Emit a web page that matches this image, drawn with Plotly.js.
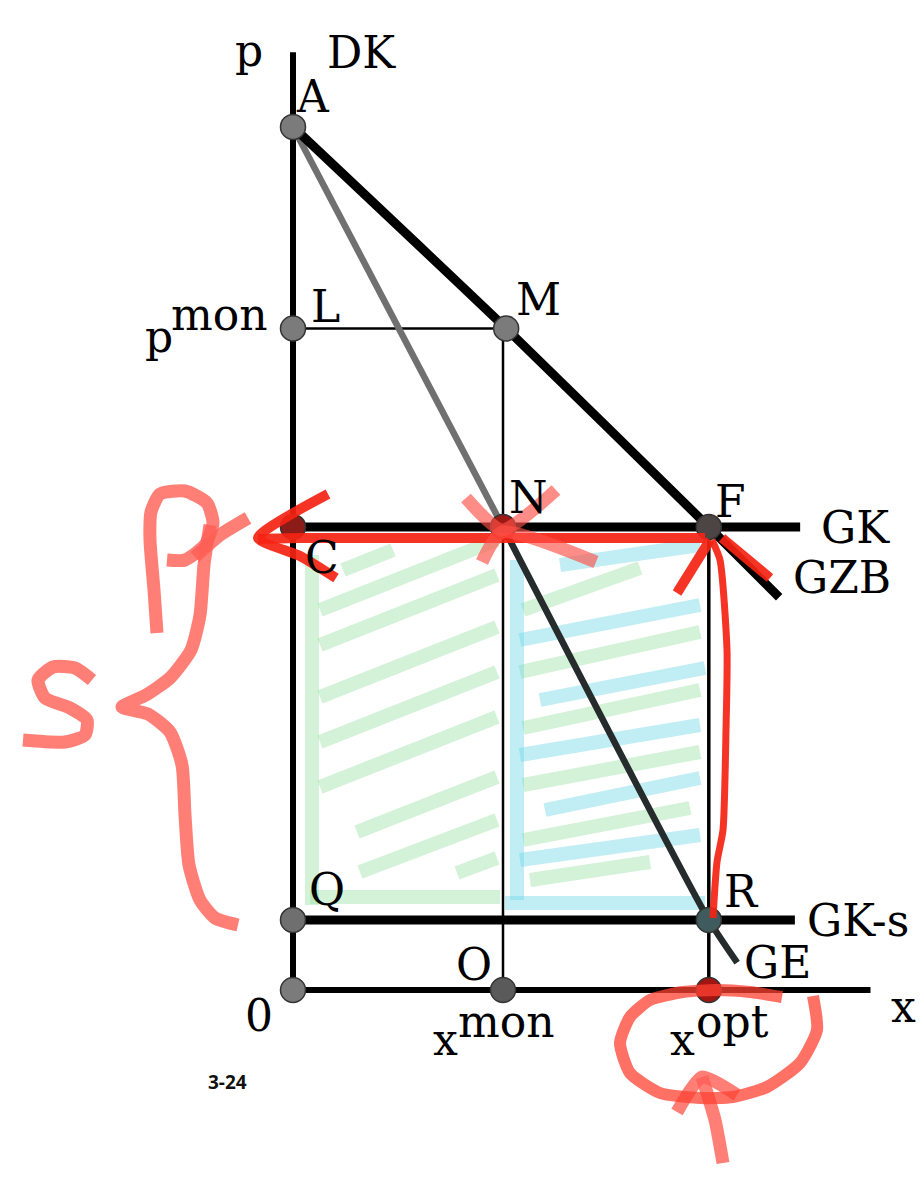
<!DOCTYPE html>
<html>
<head>
<meta charset="utf-8">
<script src="https://cdn.plot.ly/plotly-3.0.1.min.js"></script>
<style>
  html, body { margin: 0; padding: 0; background: #ffffff; }
  #chart { width: 924px; height: 1188px; }
</style>
</head>
<body>
<div id="chart"></div>
<script>
// --- model values (price p against quantity x) ---
var pA = 8.22        // choke price, point A
var pMon = 6.30      // monopoly price
var gk = 4.41        // marginal cost GK
var gkMinusS = 0.667 // GK - s
var xMon = 2.0
var xOpt = 3.96
var yTop = 8.93
var xEnd = 5.50

// demand DK / GZB  (A -> M -> F -> end)
var dkX = [0, 2.03, xOpt, 4.63]
var dkY = [pA, pMon, gk, 3.74]
// marginal revenue GE (A -> N -> R -> end)
var geX = [0, xMon, xOpt, 4.23]
var geY = [pA, gk, gkMinusS, 0.26]

var pointNames = ["A", "L", "M", "C", "N", "F", "Q", "R", "0", "O", "xopt"]
var pointX = [0, 0, 2.03, 0, xMon, xOpt, 0, xOpt, 0, xMon, xOpt]
var pointY = [pA, pMon, pMon, gk, gk, gk, gkMinusS, gkMinusS, 0, 0, 0]
var pointFill = ["#7b7b7b", "#7b7b7b", "#7b7b7b", "#8c1c18", "#9c1a12", "#4d4444",
                 "#6f6f6f", "#3f5b5e", "#7b7b7b", "#5a5a5a", "#a01612"]

// --- hand-drawn ink (screen units) ---
var greenStrokes = [
  [312, 555, 312, 905], [310, 897, 500, 897],
  [343, 570, 393, 550], [320, 610, 497, 540], [320, 645, 497, 575],
  [320, 697, 497, 627], [320, 742, 497, 672], [320, 787, 497, 717],
  [357, 832, 497, 777], [360, 872, 497, 820], [457, 873, 497, 858],
  [523, 610, 640, 568], [520, 672, 700, 632], [523, 728, 700, 690],
  [523, 785, 700, 752], [523, 840, 690, 808], [530, 880, 650, 862]
]
var cyanStrokes = [
  [560, 565, 700, 545], [520, 640, 700, 605], [540, 700, 705, 668],
  [520, 755, 700, 725], [545, 810, 700, 778], [520, 860, 700, 835],
  [505, 903, 705, 903], [517, 560, 517, 900]
]
var redLines = [
  [[258, 539], [300, 538], [500, 538], [705, 538]],
  [[328, 494], [258, 538], [300, 556], [336, 578]],
  [[677, 593], [710, 540]],
  [[722, 538], [770, 578]]
]
var redRightEdge = [[712, 540], [720, 560], [727, 650], [726, 730], [723, 830], [717, 862], [713, 918]]
var starN = [
  [[466, 498], [502, 530], [556, 490]],
  [[482, 562], [502, 532], [596, 562]]
]
var salmonLines = [
  // p
  [[157, 633], [154, 590], [150, 540], [151, 512], [160, 494], [185, 491], [207, 503], [213, 523], [205, 545], [185, 560], [167, 560]],
  [[195, 557], [220, 535], [248, 518]],
  // brace
  [[210, 525], [204, 565], [200, 615], [191, 650], [170, 678], [146, 695], [122, 707], [148, 714], [170, 732], [182, 765], [185, 815], [189, 865], [200, 900], [215, 918], [238, 925]],
  // s
  [[92, 680], [75, 668], [53, 667], [38, 680], [45, 698], [70, 708], [87, 720], [85, 735], [65, 742], [23, 740]],
  // arrow under x opt
  [[723, 1163], [715, 1120], [702, 1077]],
  [[677, 1112], [702, 1077], [737, 1095]]
]
var circleOpt = [[782, 997], [750, 992], [717, 990], [683, 992], [650, 1000], [630, 1017], [620, 1043], [630, 1073],
                 [660, 1093], [700, 1098], [733, 1097], [767, 1087], [800, 1063], [817, 1030], [813, 996]]

var labels = [
  ["p", 249, 50], ["DK", 361, 52], ["A", 313, 96], ["L", 325, 306], ["M", 538, 299],
  ["p", 159, 336], ["mon", 219, 314], ["N", 528, 497], ["F", 730, 501], ["GK", 855, 527],
  ["GZB", 842, 577], ["C", 322, 557], ["Q", 327, 889], ["R", 741, 891], ["GK-s", 858, 920],
  ["GE", 777, 962], ["O", 474, 964], ["0", 259, 1015], ["x", 445, 1039], ["mon", 506, 1021],
  ["x", 682, 1039], ["opt", 732, 1021], ["x", 903, 1006]
]

function strokesToXY(list) {
  var xs = [], ys = []
  list.forEach(s => {
    xs.push(s[0], s[2], null)
    ys.push(s[1], s[3], null)
  })
  return { x: xs, y: ys }
}

function pathsToXY(list) {
  var xs = [], ys = []
  list.forEach(path => {
    path.forEach(pt => { xs.push(pt[0]); ys.push(pt[1]) })
    xs.push(null); ys.push(null)
  })
  return { x: xs, y: ys }
}

function seg(x, y, width, color, axes) {
  return {
    x: x, y: y, mode: "lines", type: "scatter", hoverinfo: "skip",
    xaxis: axes[0], yaxis: axes[1],
    line: { color: color, width: width, shape: "spline", smoothing: 0.6 },
    connectgaps: false
  }
}

var INK_LOW = ["x", "y"]
var MAIN = ["x2", "y2"]
var INK_TOP = ["x3", "y3"]

var g = strokesToXY(greenStrokes)
var c = strokesToXY(cyanStrokes)
var r = pathsToXY(redLines)
var n = pathsToXY(starN)
var s = pathsToXY(salmonLines)
var o = pathsToXY([circleOpt])
var re = pathsToXY([redRightEdge])

var data = [
  // colouring underneath the diagram
  seg(g.x, g.y, 14, "rgba(150,225,160,0.42)", INK_LOW),
  seg(c.x, c.y, 14, "rgba(100,212,230,0.4)", INK_LOW),

  // diagram
  seg([0, 0], [0, yTop], 6, "#000000", MAIN),
  seg([0, xEnd], [0, 0], 6, "#000000", MAIN),
  seg([0, 2.03], [pMon, pMon], 2.5, "#000000", MAIN),
  seg([xMon, xMon], [pMon, 0], 2.5, "#000000", MAIN),
  seg([xOpt, xOpt], [gk, 0], 3.5, "#000000", MAIN),
  seg([0, 4.83], [gk, gk], 9, "#000000", MAIN),
  seg([0, 4.78], [gkMinusS, gkMinusS], 9, "#000000", MAIN),
  seg(geX.slice(0, 2), geY.slice(0, 2), 6.5, "#707070", MAIN),
  seg(geX.slice(1), geY.slice(1), 6.5, "#262c2c", MAIN),
  seg(dkX, dkY, 9, "#000000", MAIN),
  {
    x: pointX, y: pointY, text: pointNames, mode: "markers", type: "scatter",
    xaxis: "x2", yaxis: "y2", hoverinfo: "skip",
    marker: { size: 25, color: pointFill, line: { color: "#333333", width: 1.5 } }
  },

  // red ink on top
  seg(r.x, r.y, 10, "rgba(245,35,20,0.92)", INK_TOP),
  seg(re.x, re.y, 7, "rgba(245,35,20,0.92)", INK_TOP),
  seg(n.x, n.y, 13, "rgba(255,80,70,0.65)", INK_TOP),
  seg(s.x, s.y, 13, "rgba(255,95,85,0.8)", INK_TOP),
  seg(o.x, o.y, 12, "rgba(255,65,50,0.75)", INK_TOP)
]

var serif = "DejaVu Serif"

var annotations = labels.map(l => ({
  text: l[0], x: l[1], y: l[2], xref: "x3", yref: "y3",
  showarrow: false, xanchor: "center", yanchor: "middle",
  font: { family: serif, size: 44, color: "#000000" }
}))
annotations.push({
  text: "<b>3-24</b>", x: 227, y: 1082, xref: "x3", yref: "y3",
  showarrow: false, xanchor: "center", yanchor: "middle",
  font: { family: "Open Sans", size: 19, color: "#111111" }
})

var hidden = { visible: false, showgrid: false, zeroline: false, fixedrange: true }

var layout = {
  width: 924,
  height: 1188,
  margin: { t: 0, b: 0, l: 0, r: 0, pad: 0 },
  paper_bgcolor: "#ffffff",
  plot_bgcolor: "#ffffff",
  font: { family: serif, color: "#000000" },
  showlegend: false,
  xaxis: Object.assign({ range: [0, 924] }, hidden),
  yaxis: Object.assign({ range: [1188, 0] }, hidden),
  xaxis2: Object.assign({ range: [-293 / 105, 631 / 105], overlaying: "x" }, hidden),
  yaxis2: Object.assign({ range: [-198 / 105, 990 / 105], overlaying: "y" }, hidden),
  xaxis3: Object.assign({ range: [0, 924], overlaying: "x" }, hidden),
  yaxis3: Object.assign({ range: [1188, 0], overlaying: "y" }, hidden),
  annotations: annotations
}

Plotly.newPlot("chart", data, layout, { displayModeBar: false, staticPlot: true })
</script>
</body>
</html>
